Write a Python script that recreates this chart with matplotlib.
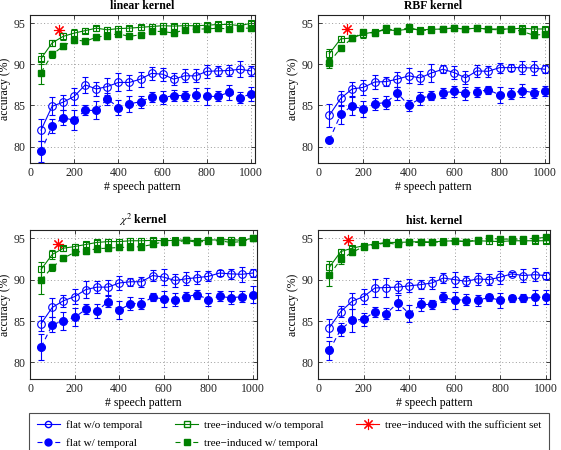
import matplotlib
matplotlib.use("Agg")
import matplotlib.pyplot as plt
from matplotlib.lines import Line2D

plt.rcParams["font.family"] = ["Liberation Serif", "DejaVu Serif"]
plt.rcParams["mathtext.fontset"] = "stix"

# number of speech patterns
X = [50, 100, 150, 200, 250, 300, 350, 400, 450, 500,
     550, 600, 650, 700, 750, 800, 850, 900, 950, 1000]

TITLES = ["linear kernel", "RBF kernel", r"$\chi^2$ kernel", "hist. kernel"]

# linear kernel
LIN_FLAT_WO = [82.0, 84.9, 85.4, 86.1, 87.5, 87.0, 87.3, 87.8, 87.8, 88.2,
               88.9, 88.8, 88.2, 88.6, 88.6, 89.15, 89.2, 89.25, 89.4, 89.2]
LIN_FLAT_WO_ERR = [1.3, 1.1, 0.9, 1.0, 1.0, 0.9, 1.0, 1.1, 0.9, 0.9,
                   0.8, 0.8, 0.7, 0.8, 0.8, 0.8, 0.6, 0.7, 1.0, 0.6]
LIN_FLAT_W = [79.4, 82.5, 83.5, 83.2, 84.4, 84.4, 85.8, 84.75, 85.2, 85.45,
              86.0, 85.95, 86.2, 86.2, 86.3, 86.1, 86.1, 86.6, 85.95, 86.4]
LIN_FLAT_W_ERR = [1.3, 0.9, 0.9, 1.2, 0.6, 1.1, 0.7, 0.9, 1.0, 0.7,
                  0.6, 0.8, 0.7, 0.6, 0.8, 1.0, 0.6, 0.9, 0.7, 0.8]
LIN_TREE_WO = [90.7, 92.6, 93.4, 93.8, 94.1, 94.4, 94.2, 94.35, 94.4, 94.5,
               94.6, 94.7, 94.65, 94.7, 94.7, 94.75, 94.85, 94.85, 94.7, 95.0]
LIN_TREE_WO_ERR = [0.7, 0.4, 0.4, 0.5, 0.3, 0.3, 0.3, 0.3, 0.3, 0.3,
                   0.3, 0.3, 0.3, 0.3, 0.3, 0.3, 0.3, 0.3, 0.3, 0.3]
LIN_TREE_W = [89.0, 91.2, 92.2, 93.0, 92.8, 93.3, 93.5, 93.7, 93.4, 93.6,
              94.0, 94.0, 93.8, 94.2, 94.3, 94.3, 94.4, 94.3, 94.4, 94.4]
LIN_TREE_W_ERR = [1.4, 0.4, 0.3, 0.4, 0.3, 0.3, 0.35, 0.3, 0.3, 0.3,
                  0.3, 0.3, 0.3, 0.3, 0.3, 0.3, 0.3, 0.3, 0.3, 0.3]

# RBF kernel
RBF_FLAT_WO = [83.8, 85.85, 87.0, 87.2, 87.85, 87.9, 88.2, 88.6, 88.35, 88.95,
               89.4, 89.0, 88.35, 89.2, 89.15, 89.6, 89.6, 89.6, 89.55, 89.4]
RBF_FLAT_WO_ERR = [1.4, 0.9, 0.8, 0.9, 0.8, 0.5, 0.9, 0.9, 0.8, 1.1,
                   0.5, 0.8, 0.8, 0.7, 0.7, 0.6, 0.4, 0.8, 0.8, 0.5]
RBF_FLAT_W = [80.8, 83.9, 84.95, 84.55, 85.2, 85.35, 86.5, 85.0, 85.85, 86.2,
              86.55, 86.7, 86.5, 86.65, 86.9, 86.3, 86.45, 86.8, 86.55, 86.8]
RBF_FLAT_W_ERR = [0.3, 1.1, 1.1, 1.0, 0.7, 0.8, 0.8, 0.7, 0.8, 0.5,
                  0.6, 0.7, 0.8, 0.6, 0.5, 1.0, 0.7, 0.8, 0.6, 0.6]
RBF_TREE_WO = [91.3, 93.1, 93.2, 93.7, 93.95, 94.2, 94.1, 94.3, 94.2, 94.25,
               94.3, 94.4, 94.3, 94.4, 94.3, 94.3, 94.3, 94.4, 94.3, 94.3]
RBF_TREE_WO_ERR = [0.6, 0.4, 0.3, 0.5, 0.3, 0.3, 0.3, 0.3, 0.3, 0.3,
                   0.3, 0.3, 0.3, 0.3, 0.3, 0.3, 0.3, 0.3, 0.3, 0.3]
RBF_TREE_W = [90.2, 92.0, 93.15, 93.9, 93.8, 94.4, 94.0, 94.5, 94.1, 94.2,
              94.3, 94.45, 94.25, 94.45, 94.25, 94.2, 94.3, 94.0, 93.55, 93.65]
RBF_TREE_W_ERR = [0.6, 0.3, 0.3, 0.3, 0.3, 0.3, 0.3, 0.3, 0.3, 0.3,
                  0.3, 0.3, 0.3, 0.3, 0.3, 0.3, 0.3, 0.3, 0.3, 0.3]

# chi^2 kernel
CHI_FLAT_WO = [84.7, 86.65, 87.45, 87.95, 88.8, 89.1, 89.1, 89.6, 89.75, 89.75,
               90.5, 90.3, 89.9, 90.1, 90.25, 90.4, 90.8, 90.7, 90.65, 90.8]
CHI_FLAT_WO_ERR = [0.9, 1.1, 0.7, 0.9, 1.0, 0.7, 0.9, 0.9, 0.5, 0.6,
                   0.7, 1.0, 0.8, 0.8, 0.8, 0.6, 0.4, 0.6, 0.9, 0.5]
CHI_FLAT_W = [81.85, 84.55, 85.05, 85.45, 86.4, 86.2, 87.35, 86.3, 87.1, 87.1,
              87.9, 87.65, 87.6, 87.95, 88.2, 87.6, 88.0, 87.8, 87.95, 88.2]
CHI_FLAT_W_ERR = [1.6, 0.9, 1.1, 1.1, 0.6, 0.8, 0.7, 1.1, 0.8, 0.7,
                  0.5, 1.0, 0.8, 0.5, 0.5, 0.8, 0.6, 0.8, 0.7, 1.0]
CHI_TREE_WO = [91.25, 93.05, 93.8, 94.0, 94.25, 94.5, 94.6, 94.6, 94.7, 94.7,
               94.75, 94.7, 94.75, 94.8, 94.7, 94.8, 94.8, 94.85, 94.75, 95.0]
CHI_TREE_WO_ERR = [0.9, 0.5, 0.3, 0.3, 0.3, 0.3, 0.3, 0.3, 0.3, 0.3,
                   0.3, 0.3, 0.3, 0.3, 0.3, 0.3, 0.3, 0.3, 0.3, 0.3]
CHI_TREE_W = [89.95, 91.5, 92.6, 93.3, 93.45, 93.75, 93.8, 93.9, 93.9, 94.0,
              94.25, 94.6, 94.5, 94.75, 94.5, 94.7, 94.7, 94.5, 94.6, 95.0]
CHI_TREE_W_ERR = [1.7, 0.4, 0.3, 0.3, 0.3, 0.3, 0.3, 0.3, 0.3, 0.3,
                  0.3, 0.3, 0.3, 0.3, 0.3, 0.3, 0.3, 0.3, 0.3, 0.3]

# histogram intersection kernel
HIST_FLAT_WO = [84.2, 86.15, 87.4, 87.95, 89.0, 89.05, 89.1, 89.25, 89.4, 89.6,
                90.2, 90.0, 89.8, 90.1, 90.0, 90.3, 90.7, 90.5, 90.6, 90.5]
HIST_FLAT_WO_ERR = [1.1, 0.7, 1.0, 0.9, 1.1, 1.2, 0.7, 0.8, 0.5, 0.7,
                    0.6, 0.9, 0.6, 0.7, 0.7, 0.8, 0.2, 0.8, 0.8, 0.4]
HIST_FLAT_W = [81.45, 84.0, 85.1, 85.2, 86.15, 85.9, 87.2, 85.9, 87.0, 87.0,
               87.9, 87.5, 87.6, 87.5, 87.85, 87.5, 87.75, 87.75, 87.85, 87.9]
HIST_FLAT_W_ERR = [1.1, 0.8, 1.4, 0.8, 0.6, 0.7, 0.9, 1.0, 0.8, 0.6,
                   0.6, 1.0, 0.7, 0.7, 0.4, 0.9, 0.4, 0.5, 0.9, 0.9]
HIST_TREE_WO = [91.5, 93.4, 93.8, 94.1, 94.3, 94.5, 94.5, 94.55, 94.6, 94.55,
                94.65, 94.7, 94.6, 94.7, 94.65, 94.6, 94.7, 94.7, 94.7, 94.7]
HIST_TREE_WO_ERR = [0.7, 0.3, 0.3, 0.3, 0.3, 0.3, 0.3, 0.3, 0.3, 0.3,
                    0.3, 0.3, 0.3, 0.3, 0.3, 0.3, 0.3, 0.3, 0.3, 0.3]
HIST_TREE_W = [90.55, 92.45, 93.3, 94.0, 94.2, 94.45, 94.25, 94.5, 94.5, 94.5,
               94.6, 94.7, 94.6, 94.8, 95.0, 94.9, 94.9, 94.9, 95.0, 95.1]
HIST_TREE_W_ERR = [1.3, 0.5, 0.3, 0.3, 0.3, 0.3, 0.3, 0.3, 0.3, 0.3,
                   0.3, 0.3, 0.3, 0.3, 0.3, 0.3, 0.3, 0.3, 0.3, 0.3]

# tree-induced with the sufficient set (one point per kernel)
STAR_X = [130, 128, 127, 130]
STAR_Y = [94.2, 94.3, 94.3, 94.8]

LABELS = ["flat w/o temporal", "flat w/ temporal",
          "tree\u2212induced w/o temporal", "tree\u2212induced w/ temporal",
          "tree\u2212induced with the sufficient set"]

BLUE = "#0000ff"
GREEN = "#008000"
RED = "#ff0000"
DASH = (0, (4.5, 3.5))
STAR = (8, 2, 0)

PANELS = [
    (LIN_FLAT_WO, LIN_FLAT_WO_ERR, LIN_FLAT_W, LIN_FLAT_W_ERR,
     LIN_TREE_WO, LIN_TREE_WO_ERR, LIN_TREE_W, LIN_TREE_W_ERR),
    (RBF_FLAT_WO, RBF_FLAT_WO_ERR, RBF_FLAT_W, RBF_FLAT_W_ERR,
     RBF_TREE_WO, RBF_TREE_WO_ERR, RBF_TREE_W, RBF_TREE_W_ERR),
    (CHI_FLAT_WO, CHI_FLAT_WO_ERR, CHI_FLAT_W, CHI_FLAT_W_ERR,
     CHI_TREE_WO, CHI_TREE_WO_ERR, CHI_TREE_W, CHI_TREE_W_ERR),
    (HIST_FLAT_WO, HIST_FLAT_WO_ERR, HIST_FLAT_W, HIST_FLAT_W_ERR,
     HIST_TREE_WO, HIST_TREE_WO_ERR, HIST_TREE_W, HIST_TREE_W_ERR),
]

W, H = 561, 450
# axes boxes in pixels: left, top, right, bottom
BOXES = [(30, 15, 255, 163), (318, 15, 549, 163),
         (30, 230, 257, 379), (318, 230, 550, 379)]

fig = plt.figure(figsize=(W / 100, H / 100), dpi=100)


def style_axes(ax, title):
    ax.set_xlim(0, 1018)
    ax.set_ylim(78, 96)
    ax.set_xticks([0, 200, 400, 600, 800, 1000])
    ax.set_yticks([80, 85, 90, 95])
    ax.grid(True, linestyle=(0, (1, 2.5)), color="#9a9a9a", linewidth=0.7)
    ax.tick_params(direction="in", top=True, right=True, labelsize=8.5,
                   length=3, width=0.6, colors="#222222", pad=3)
    for sp in ax.spines.values():
        sp.set_linewidth(0.8)
        sp.set_color("#222222")
    ax.set_title(title, fontsize=8.5, fontweight="bold", pad=4)
    ax.set_xlabel("# speech pattern", fontsize=8.5, labelpad=1)
    ax.set_ylabel("accuracy (%)", fontsize=8.5, labelpad=2)


for i, (box, vals) in enumerate(zip(BOXES, PANELS)):
    l, t, r, b = box
    ax = fig.add_axes([l / W, 1 - b / H, (r - l) / W, (b - t) / H])
    fwo, fwo_e, fw, fw_e, two, two_e, tw, tw_e = vals
    common = dict(capsize=2.2, elinewidth=0.8, capthick=0.8, linewidth=0.8)
    ax.errorbar(X, tw, yerr=tw_e, color=GREEN, linestyle=DASH, marker="s",
                markersize=4.5, markerfacecolor=GREEN, markeredgecolor=GREEN,
                **common)
    ax.errorbar(X, two, yerr=two_e, color=GREEN, linestyle="-", marker="s",
                markersize=4.5, markerfacecolor="none", markeredgecolor=GREEN,
                markeredgewidth=0.8, **common)
    ax.errorbar(X, fw, yerr=fw_e, color=BLUE, linestyle=DASH, marker="o",
                markersize=5.5, markerfacecolor=BLUE, markeredgecolor=BLUE,
                **common)
    ax.errorbar(X, fwo, yerr=fwo_e, color=BLUE, linestyle="-", marker="o",
                markersize=5.5, markerfacecolor="none", markeredgecolor=BLUE,
                markeredgewidth=0.8, **common)
    ax.plot([STAR_X[i]], [STAR_Y[i]], linestyle="none", marker=STAR,
            markersize=8, markeredgecolor=RED, markeredgewidth=0.8)
    style_axes(ax, TITLES[i])

handles = [
    Line2D([], [], color=BLUE, linestyle="-", marker="o", markersize=4.5,
           markerfacecolor="none", linewidth=0.8),
    Line2D([], [], color=BLUE, linestyle=DASH, marker="o", markersize=5,
           linewidth=0.8),
    Line2D([], [], color=GREEN, linestyle="-", marker="s", markersize=4,
           markerfacecolor="none", linewidth=0.8),
    Line2D([], [], color=GREEN, linestyle=DASH, marker="s", markersize=4,
           linewidth=0.8),
    Line2D([], [], color=RED, linestyle="-", marker=STAR, markersize=8,
           linewidth=0.8, markeredgewidth=0.8),
]
leg = fig.legend(handles, LABELS, ncol=3, loc="upper left", mode="expand",
                 bbox_to_anchor=(29 / W, 1 - 413 / H, 520 / W, 0.001),
                 fontsize=8, frameon=True, fancybox=False, numpoints=1,
                 handlelength=2.1, handletextpad=0.5, borderpad=0.7,
                 labelspacing=0.75, borderaxespad=0)
leg.get_frame().set_edgecolor("#222222")
leg.get_frame().set_linewidth(0.8)

fig.savefig("out.png", dpi=100, facecolor="white")
